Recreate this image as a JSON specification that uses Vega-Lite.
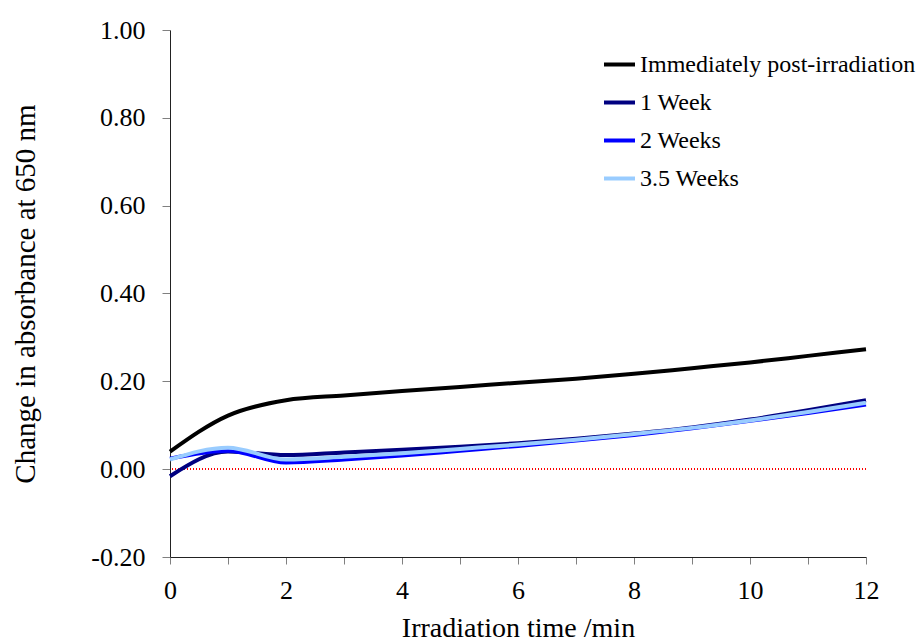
{
  "$schema": "https://vega.github.io/schema/vega-lite/v6.json",
  "width": 696,
  "height": 527,
  "autosize": {"type": "none"},
  "padding": {"left": 170, "top": 30, "right": 53, "bottom": 86},
  "background": "white",
  "config": {
    "view": {"stroke": null}
  },
  "data": {"values": [
    {"t": 0, "v": 0.04, "s": "Immediately post-irradiation"},
    {"t": 1, "v": 0.122, "s": "Immediately post-irradiation"},
    {"t": 2, "v": 0.157, "s": "Immediately post-irradiation"},
    {"t": 3, "v": 0.168, "s": "Immediately post-irradiation"},
    {"t": 4, "v": 0.178, "s": "Immediately post-irradiation"},
    {"t": 5, "v": 0.187, "s": "Immediately post-irradiation"},
    {"t": 6, "v": 0.197, "s": "Immediately post-irradiation"},
    {"t": 7, "v": 0.206, "s": "Immediately post-irradiation"},
    {"t": 8, "v": 0.217, "s": "Immediately post-irradiation"},
    {"t": 9, "v": 0.23, "s": "Immediately post-irradiation"},
    {"t": 10, "v": 0.243, "s": "Immediately post-irradiation"},
    {"t": 11, "v": 0.258, "s": "Immediately post-irradiation"},
    {"t": 12, "v": 0.273, "s": "Immediately post-irradiation"},
    {"t": 0, "v": -0.016, "s": "1 Week"},
    {"t": 1, "v": 0.04, "s": "1 Week"},
    {"t": 2, "v": 0.032, "s": "1 Week"},
    {"t": 3, "v": 0.038, "s": "1 Week"},
    {"t": 4, "v": 0.044, "s": "1 Week"},
    {"t": 5, "v": 0.051, "s": "1 Week"},
    {"t": 6, "v": 0.059, "s": "1 Week"},
    {"t": 7, "v": 0.069, "s": "1 Week"},
    {"t": 8, "v": 0.081, "s": "1 Week"},
    {"t": 9, "v": 0.095, "s": "1 Week"},
    {"t": 10, "v": 0.113, "s": "1 Week"},
    {"t": 11, "v": 0.134, "s": "1 Week"},
    {"t": 12, "v": 0.157, "s": "1 Week"},
    {"t": 0, "v": 0.024, "s": "2 Weeks"},
    {"t": 1, "v": 0.042, "s": "2 Weeks"},
    {"t": 2, "v": 0.015, "s": "2 Weeks"},
    {"t": 3, "v": 0.022, "s": "2 Weeks"},
    {"t": 4, "v": 0.031, "s": "2 Weeks"},
    {"t": 5, "v": 0.042, "s": "2 Weeks"},
    {"t": 6, "v": 0.053, "s": "2 Weeks"},
    {"t": 7, "v": 0.065, "s": "2 Weeks"},
    {"t": 8, "v": 0.078, "s": "2 Weeks"},
    {"t": 9, "v": 0.093, "s": "2 Weeks"},
    {"t": 10, "v": 0.11, "s": "2 Weeks"},
    {"t": 11, "v": 0.128, "s": "2 Weeks"},
    {"t": 12, "v": 0.147, "s": "2 Weeks"},
    {"t": 0, "v": 0.022, "s": "3.5 Weeks"},
    {"t": 1, "v": 0.049, "s": "3.5 Weeks"},
    {"t": 2, "v": 0.022, "s": "3.5 Weeks"},
    {"t": 3, "v": 0.028, "s": "3.5 Weeks"},
    {"t": 4, "v": 0.036, "s": "3.5 Weeks"},
    {"t": 5, "v": 0.046, "s": "3.5 Weeks"},
    {"t": 6, "v": 0.056, "s": "3.5 Weeks"},
    {"t": 7, "v": 0.067, "s": "3.5 Weeks"},
    {"t": 8, "v": 0.08, "s": "3.5 Weeks"},
    {"t": 9, "v": 0.094, "s": "3.5 Weeks"},
    {"t": 10, "v": 0.111, "s": "3.5 Weeks"},
    {"t": 11, "v": 0.13, "s": "3.5 Weeks"},
    {"t": 12, "v": 0.151, "s": "3.5 Weeks"}
  ]},
  "layer": [
    {
      "mark": {"type": "rule", "color": "#FF0000", "strokeWidth": 1, "strokeDash": [1, 2]},
      "encoding": {"y": {"datum": 0, "type": "quantitative"}}
    },
    {
      "mark": {"type": "line", "interpolate": "monotone", "strokeWidth": 4},
      "encoding": {
        "x": {"field": "t", "type": "quantitative", "scale": {"domain": [0, 12], "nice": false},
          "axis": {"title": "Irradiation time /min", "grid": false, "domainColor": "#222222", "tickColor": "#808080", "labelColor": "#000000", "titleColor": "#000000", "labelFont": "Liberation Serif", "titleFont": "Liberation Serif", "titleFontWeight": "normal", "labelFontSize": 26, "titleFontSize": 28,
            "values": [0,1,2,3,4,5,6,7,8,9,10,11,12], "labelExpr": "datum.value % 2 == 0 ? datum.label : ''", "tickSize": 7, "labelPadding": 13, "titlePadding": 11, "labelFlush": false}},
        "y": {"field": "v", "type": "quantitative", "scale": {"domain": [-0.2, 1.0], "nice": false, "zero": false},
          "axis": {"title": "Change in absorbance at 650 nm", "grid": false, "domainColor": "#222222", "tickColor": "#808080", "labelColor": "#000000", "titleColor": "#000000", "labelFont": "Liberation Serif", "titleFont": "Liberation Serif", "titleFontWeight": "normal", "labelFontSize": 26, "titleFontSize": 29,
            "values": [-0.2, 0, 0.2, 0.4, 0.6, 0.8, 1.0], "labelExpr": "replace(format(datum.value, '.2f'), '\u2212', '-')", "tickSize": 8, "labelPadding": 17, "titlePadding": 50}},
        "color": {"field": "s", "type": "nominal",
          "scale": {"domain": ["Immediately post-irradiation", "1 Week", "2 Weeks", "3.5 Weeks"], "range": ["#000000", "#000080", "#0000FF", "#99CCFF"]},
          "legend": {"title": null, "orient": "none", "legendX": 432, "legendY": 17, "symbolType": "stroke", "symbolSize": 961, "symbolStrokeWidth": 4, "rowPadding": 8, "labelOffset": 3, "labelFont": "Liberation Serif", "labelFontSize": 24, "labelColor": "#000000", "labelLimit": 400}}
      }
    }
  ]
}
